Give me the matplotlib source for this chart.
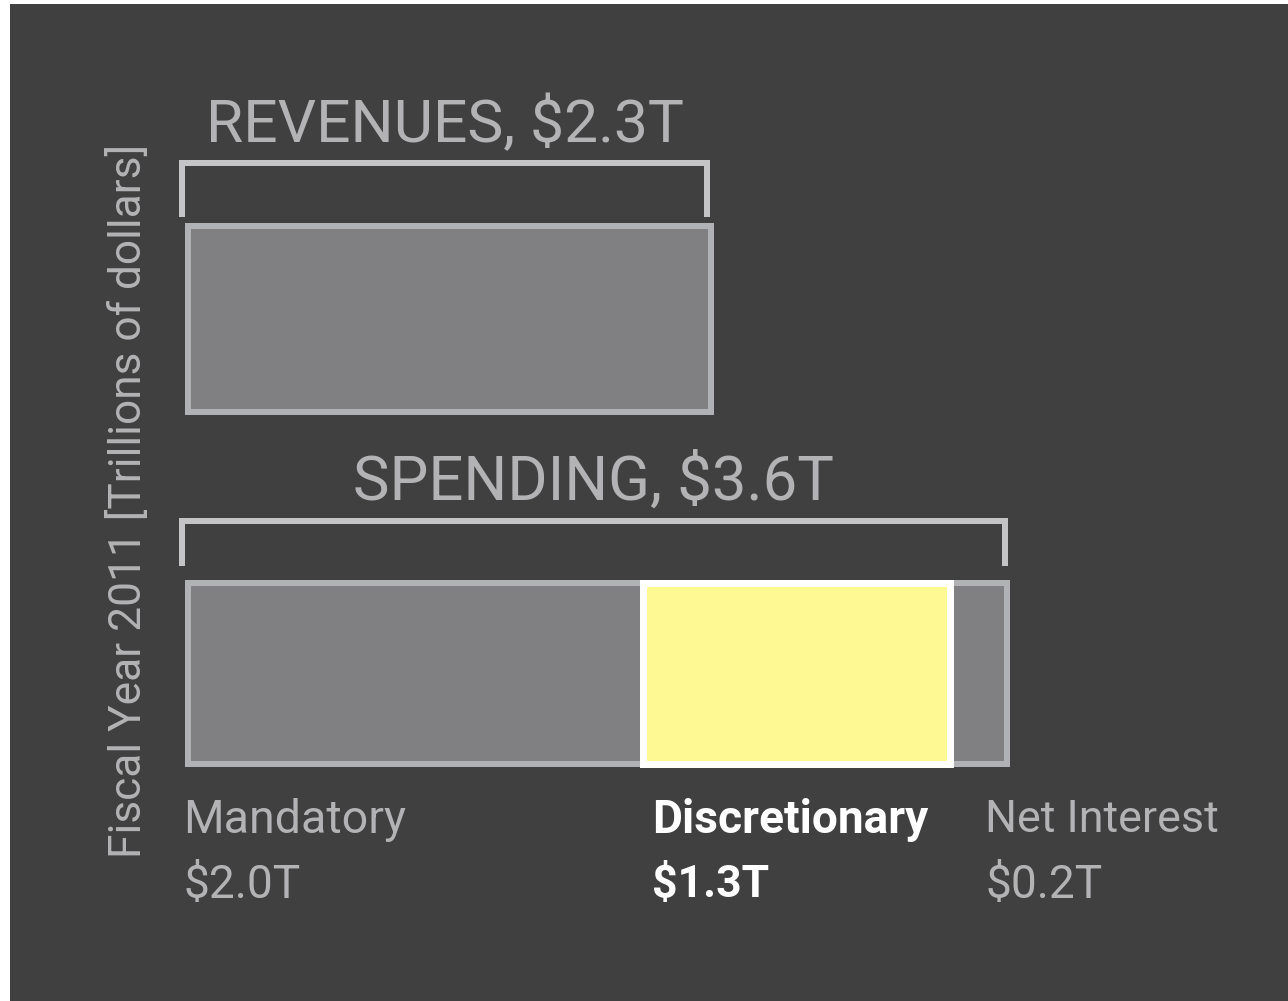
import matplotlib
matplotlib.use("Agg")
import matplotlib.pyplot as plt
from matplotlib.patches import Rectangle

# Data (trillions of dollars, fiscal year 2011)
revenue_total = 2.3
spending_total = 3.6
spend_names = ["Mandatory", "Discretionary", "Net Interest"]
spend_widths = [2.0, 1.35, 0.25]          # segment widths as drawn
spend_labels = ["$2.0T", "$1.3T", "$0.2T"]
ylabel_text = "Fiscal Year 2011 [Trillions of dollars]"

BG = "#404040"
FILL = "#808083"
EDGE = "#b1b2b5"
TXT = "#b3b3b6"
YELLOW = "#fff993"
FONT = "Roboto"

W, H, DPI = 1288, 1001, 100
fig = plt.figure(figsize=(W / DPI, H / DPI), dpi=DPI, facecolor="white")
fig.patches.append(Rectangle((10 / W, 0), 1, (H - 4) / H, transform=fig.transFigure,
                             facecolor=BG, edgecolor="none", zorder=-10))
ax = fig.add_axes([10 / W, 0, 1 - 10 / W, (H - 4) / H])
ax.set_zorder(5)
ax.axis("off")

# x: 0 at 188px, 227.5px per trillion; y: pixel rows from the top
scale = 227.5
x0 = 188
ax.set_xlim((10 - x0) / scale, (W - x0) / scale)
ax.set_ylim(H, 4)

lw_px = 6 * 72 / DPI

# revenue bar
ax.barh(319, revenue_total, left=0, height=186, color=FILL, edgecolor=EDGE, linewidth=lw_px)

# spending bars
lefts = [sum(spend_widths[:i]) for i in range(len(spend_widths))]
for i, (w, l) in enumerate(zip(spend_widths, lefts)):
    if i == 1:
        continue
    ax.barh(673, w, left=l, height=181, color=FILL, edgecolor=EDGE, linewidth=lw_px)
ax.barh(673, spend_widths[1], left=lefts[1], height=181, color=YELLOW, edgecolor="white",
        linewidth=7 * 72 / DPI, zorder=3)

# brackets
pad = 6 / scale
def bracket(total, ytop, ybot):
    ax.plot([-pad, -pad, total, total], [ybot, ytop, ytop, ybot],
            color="#c4c4c6", linewidth=lw_px, solid_joinstyle="miter", solid_capstyle="butt")

bracket(revenue_total - 0.02, 163, 217)
bracket(spending_total - 0.01, 521, 566)

texts = []  # (artist, target size in px along the text)
def put(x, y, s, target, **kw):
    t = ax.text(x, y, s, family=FONT, fontsize=30, **kw)
    texts.append((t, target))

put(revenue_total / 2 - 0.02, 125, "REVENUES, $%.1fT" % revenue_total, 477,
    color=TXT, ha="center", va="center")
put(spending_total / 2 - 0.02, 482, "SPENDING, $%.1fT" % spending_total, 480,
    color=TXT, ha="center", va="center")
put((128 - x0) / scale, 501, ylabel_text, 713, rotation=90, color=TXT, ha="center", va="center")

label_x = [183, 652, 985]
name_w = [222, 276, 233]
val_w = [117, 117, 117]
for i, (n, v) in enumerate(zip(spend_names, spend_labels)):
    c = "white" if i == 1 else TXT
    wt = "bold" if i == 1 else "normal"
    xx = (label_x[i] - x0) / scale
    put(xx, 820, n, name_w[i], color=c, weight=wt, ha="left", va="center")
    put(xx, 885, v, val_w[i], color=c, weight=wt, ha="left", va="center")

# size the texts to the lengths they take up in the original
fig.canvas.draw()
r = fig.canvas.get_renderer()
for t, target in texts:
    bb = t.get_window_extent(r)
    length = bb.height if t.get_rotation() == 90 else bb.width
    t.set_fontsize(t.get_fontsize() * target / length)

fig.savefig("out.png", dpi=DPI, facecolor="white")
